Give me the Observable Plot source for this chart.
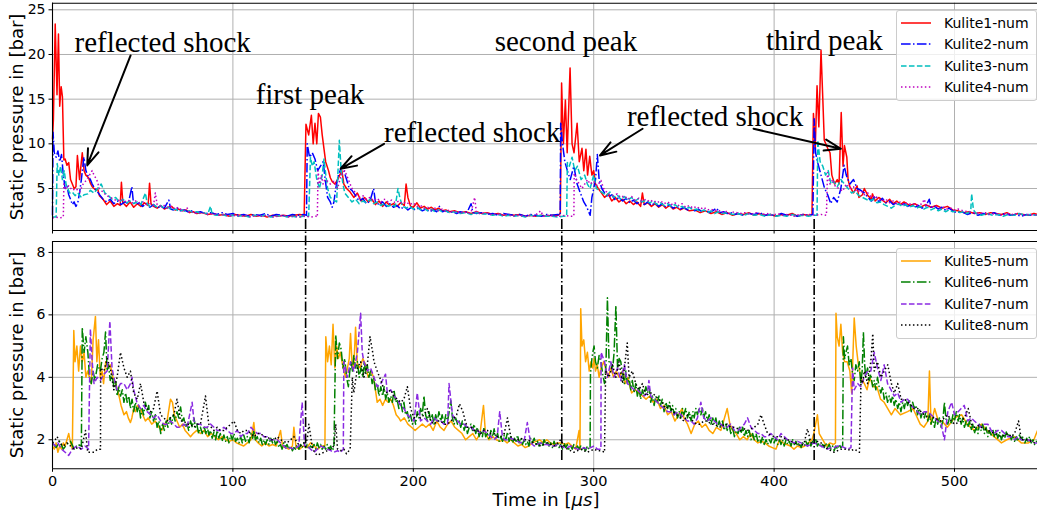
<!DOCTYPE html>
<html><head><meta charset="utf-8">
<script src="https://cdn.jsdelivr.net/npm/d3@7"></script>
<script src="https://cdn.jsdelivr.net/npm/@observablehq/plot@0.6"></script>
<style>
body{margin:0;background:#fff;}
#fig{position:relative;width:1037px;height:513px;overflow:hidden;font-family:"DejaVu Sans",sans-serif;color:#000;}
#fig > svg{position:absolute;left:0;top:0;}
.lab{position:absolute;font-size:18px;white-space:nowrap;transform:translate(-50%,-50%);}
.ylab{transform:translate(-50%,-50%) rotate(-90deg);}
.legend{position:absolute;left:896px;width:139px;height:89px;border:1px solid #cccccc;border-radius:3px;background:rgba(255,255,255,0.8);}
.legend .row{position:absolute;left:0;height:20px;width:139px;transform:translateY(-50%);}
.legend .row svg{position:absolute;left:4px;top:8px;}
.legend .row span{position:absolute;left:47px;top:0;font-size:14px;line-height:20px;}
</style></head><body><div id="fig"></div>
<script>
// ---------- data (time in µs, pressure in bar) ----------
const xTicks = [0, 100, 200, 300, 400, 500];
const topYTicks = [5, 10, 15, 20, 25];
const botYTicks = [2, 4, 6, 8];
const topNames = ["Kulite1-num", "Kulite2-num", "Kulite3-num", "Kulite4-num"];
const botNames = ["Kulite5-num", "Kulite6-num", "Kulite7-num", "Kulite8-num"];
const shockTimes = [140.3, 282.3, 422.2];

const k1 = [[0,10.5],[0.5,12.7],[1.5,23.4],[2.5,15.5],[3.3,22.3],[4,14.2],[4.8,16.4],[5.5,15.3],[6.3,8.2],[7,8.3],[8,7.6],[9,7.9],[10,6.0],[11,5.5],[12,5.0],[13,5.2],[13.8,8.7],[15,6.0],[16.5,9.0],[17.5,7.0],[18.5,6.5],[20,6.2],[21,5.6],[22,5.2],[24,4.8],[25,5.0],[26,4.2],[28,3.8],[30,3.2],[32,3.6],[34,3.0],[36,3.3],[37.5,3.1],[38.2,5.7],[39,3.4],[41,3.0],[43,3.5],[45,2.9],[47,3.3],[49,3.0],[51,3.4],[53,3.1],[53.8,5.6],[54.6,3.3],[56,3.0],[58,2.8],[60,3.1],[62,2.7],[64,2.9],[66,3.0],[68,2.6],[70,2.7],[72,2.5],[74,2.6],[76,2.3],[78,2.4],[80,2.2],[83,2.3],[86,2.1],[89,2.2],[92,2.0],[95,2.1],[98,1.9],[101,2.1],[104,2.0],[107,1.9],[110,2.1],[113,1.9],[116,2.0],[119,1.8],[122,2.0],[125,1.9],[128,2.0],[131,1.9],[134,2.0],[137,2.1],[139.5,2.0],[140.5,12.2],[142,11.0],[143.5,13.2],[144.5,10.0],[145.5,12.3],[146.5,10.0],[147.4,13.4],[148.5,13.0],[149.5,11.0],[151.4,8.0],[153,7.0],[154,6.2],[155,5.8],[156.5,5.5],[158,6.0],[160.4,7.0],[161.5,5.5],[163,5.0],[165,4.6],[167,4.0],[169,4.5],[171,3.6],[173,4.0],[175,3.5],[177,3.8],[179,3.2],[181,3.6],[183,3.0],[185,3.5],[187,3.1],[189,3.3],[191,3.0],[193,3.4],[195,3.1],[196,5.5],[197,4.0],[198.5,3.0],[200,2.9],[202,3.4],[204,2.8],[206,3.0],[208,2.7],[210,2.9],[212,2.6],[214,2.8],[216,2.5],[218,2.6],[220,2.4],[223,2.5],[226,2.3],[229,2.4],[232,2.2],[235,2.4],[238,2.2],[241,2.3],[244,2.1],[247,2.2],[250,2.0],[253,2.1],[256,2.0],[259,2.1],[262,1.9],[265,2.0],[268,1.9],[271,2.0],[274,1.9],[277,2.0],[280,2.0],[281.5,2.2],[282.2,16.8],[283.2,10],[284.3,14.9],[285.3,9],[286.9,18.5],[288,10],[289.1,9],[290.8,12.3],[292,8],[293.5,9.5],[294.5,7.0],[295.7,9.4],[296.6,6.5],[297.8,8.6],[299,6.5],[300,7.0],[301,5.5],[302.5,5.0],[304,4.6],[306,4.0],[308,4.4],[310,3.6],[312,4.0],[314,3.5],[316,3.8],[318,3.3],[320,3.6],[322,3.2],[324,3.5],[326,3.0],[327,4.5],[328,3.2],[330,3.4],[332,3.0],[334,3.3],[336,2.9],[338,3.2],[340,2.8],[342,3.1],[344,2.7],[346,2.9],[348,2.6],[350,2.8],[353,2.5],[356,2.6],[359,2.3],[362,2.5],[365,2.2],[368,2.4],[371,2.1],[374,2.3],[377,2.0],[380,2.2],[383,2.1],[386,2.3],[389,2.0],[392,2.2],[395,2.0],[398,2.1],[401,1.9],[404,2.1],[407,2.0],[410,2.2],[413,1.9],[416,2.1],[419,2.0],[421,2.1],[421.8,13.4],[422.8,9.5],[423.8,16.5],[424.8,11.9],[426,20.5],[427,15.0],[427.8,10.4],[429.7,9.5],[431,9.0],[432,6.5],[433.5,5.5],[435,6.0],[436,5.5],[437.2,13.5],[438.2,7.5],[439,9.8],[440.3,8.5],[441,6.0],[442,5.2],[444,4.5],[446,5.3],[447,4.0],[449,4.3],[450,5.0],[452,4.2],[454,3.8],[454.5,4.4],[456,3.6],[458,4.0],[460,3.7],[462,3.4],[464,3.8],[466,3.3],[468,3.6],[470,3.2],[472,3.5],[475,3.1],[478,3.3],[481,2.9],[484,3.2],[487,2.9],[490,3.1],[493,2.8],[496,3.0],[499,2.6],[502,2.5],[505,2.3],[508,2.4],[511,2.2],[514,2.3],[517,2.1],[520,2.3],[523,2.2],[526,2.1],[529,2.3],[532,2.0],[535,2.2],[538,2.1],[541,2.0],[544,2.2],[546,2.1]];

const k2 = [[0,2.0],[0.3,11.3],[1,9.0],[2,8.5],[3,9.2],[4,8.0],[5,8.8],[6,6.5],[7,5.0],[8,5.3],[9,4.3],[10,3.8],[11,3.2],[12,3.5],[13,3.0],[14,3.4],[15,4.5],[16,6.0],[17.4,8.5],[18.5,7.0],[19.5,6.5],[21,6.0],[22,5.5],[23.5,5.0],[25,4.6],[26.5,4.2],[28,3.8],[30,3.5],[32,3.8],[34,3.3],[36,3.6],[38,3.2],[40,3.5],[42,3.3],[44,5.2],[44.8,3.5],[46,3.2],[48,3.4],[50,3.0],[52,3.3],[54,2.9],[56,3.2],[58,2.8],[60,3.0],[62,2.8],[64.5,3.7],[65.5,2.7],[67,2.6],[69,2.8],[71,2.5],[73,2.6],[75,2.4],[77,2.5],[79,2.3],[82,2.4],[85,2.2],[88,2.3],[91,2.1],[94,2.3],[97,2.1],[100,2.2],[103,2.0],[106,2.1],[109,1.9],[112,2.1],[115,2.0],[118,2.2],[121,1.9],[124,2.1],[127,2.0],[130,1.9],[133,2.1],[136,2.0],[139,2.1],[140.8,2.0],[141.2,10.0],[142.5,8.5],[144,9.0],[145.5,8.3],[147,7.0],[148.5,7.5],[150,8.0],[151.5,5.5],[152.5,4.0],[154,3.5],[155,2.9],[156,3.5],[157,5.0],[158.5,6.5],[160.4,7.5],[161.5,7.0],[163,6.0],[164.5,5.0],[166,4.8],[168,4.2],[170,3.6],[172,3.9],[174,3.3],[176,3.6],[178,5.0],[179,3.5],[181,3.2],[183,3.5],[185,3.0],[187,3.3],[189,2.9],[191,3.1],[193,2.7],[195,3.0],[197,2.6],[199,2.9],[201,2.6],[203,2.8],[205,2.5],[207,2.7],[209,2.4],[211,2.6],[213,2.4],[214.5,3.0],[216,2.4],[218,2.5],[220,2.3],[222,2.4],[224,2.2],[226,2.4],[228,2.3],[230,2.4],[232,3.3],[233,2.3],[235,2.2],[238,2.3],[241,2.1],[244,2.2],[247,2.0],[250,2.2],[253,2.1],[256,2.0],[259,2.1],[262,1.9],[265,2.1],[268,2.0],[271,1.9],[274,2.1],[277,2.0],[280,2.1],[281.4,2.0],[281.7,12.3],[282.7,10.0],[284,8.0],[285.4,7.0],[287,6.0],[289,7.5],[290.8,5.5],[292.6,4.5],[294.5,3.5],[296,3.0],[297,2.5],[298,2.0],[299,4.0],[300,5.0],[301,6.0],[302,8.8],[303,6.0],[304.5,5.0],[306,4.5],[308,4.0],[310,4.3],[312,3.7],[314,4.0],[316,3.6],[318,3.9],[320,3.4],[322,3.7],[324,3.3],[326,3.6],[328,3.2],[330,3.5],[332,3.1],[334,3.4],[336,3.0],[338,3.3],[340,2.9],[342,3.2],[344,2.8],[346,3.0],[348,2.7],[350,2.9],[352,2.6],[354,2.8],[356,2.5],[358,2.7],[360,2.4],[362,2.6],[364,2.3],[366,2.5],[368,2.8],[370,2.3],[372,2.4],[374,2.2],[376,2.3],[378,2.1],[380,2.2],[383,2.0],[386,2.2],[389,2.1],[392,2.3],[395,2.0],[398,2.1],[401,1.9],[404,2.2],[407,2.0],[410,2.1],[413,1.9],[416,2.1],[419,2.0],[421.5,2.1],[422.2,12.8],[423,9.0],[424,8.0],[426,6.5],[428,5.0],[429.7,4.3],[431.4,3.3],[433,4.0],[435,3.5],[437,5.0],[438.8,7.6],[440,6.5],[442,5.5],[444,6.0],[446,5.0],[448,4.8],[450,4.5],[452,4.0],[454,3.6],[456,4.2],[458,3.5],[460,3.9],[462,3.4],[464,3.6],[466,3.2],[468,3.4],[470,3.1],[472,3.3],[474,3.0],[476,3.2],[478,2.9],[480,3.1],[482,2.8],[484,3.0],[486,3.8],[487,2.9],[489,3.0],[491,2.7],[493,2.9],[495,2.6],[497,2.8],[499,2.5],[501,2.3],[504,2.4],[507,2.1],[510,2.3],[513,2.0],[516,2.2],[519,2.1],[522,2.3],[525,2.0],[528,2.2],[531,2.0],[534,2.1],[537,1.9],[540,2.1],[543,2.0],[546,2.1]];

const k3 = [[0,1.8],[2,1.8],[2.6,7.8],[3.5,6.5],[4.5,7.5],[5.5,6.0],[6.5,7.0],[7.5,5.5],[8.5,5.0],[9.5,4.5],[11,4.6],[12.5,4.2],[14,4.5],[16,4.0],[17.5,4.3],[19.6,4.4],[21,4.8],[23,4.5],[25,5.0],[27,5.5],[29,4.5],[31,4.2],[33,3.8],[35,4.0],[37,3.5],[39,3.8],[41,3.4],[43,3.6],[45,3.3],[47,3.5],[49,3.2],[51.5,4.5],[52.5,3.3],[54,3.0],[56,3.2],[58,2.9],[60,3.1],[62,2.8],[64,2.9],[66,2.6],[68,2.7],[70,2.5],[72,2.6],[74,2.4],[76,2.5],[78,2.3],[80,2.4],[82,2.2],[84,2.3],[86,2.1],[87.6,3.0],[88.5,2.1],[91,2.0],[94,2.1],[97,1.9],[100,2.0],[103,1.9],[106,2.0],[109,1.8],[112,2.0],[115,1.9],[118,2.0],[121,1.8],[124,1.9],[127,2.0],[130,1.8],[133,1.9],[136,1.8],[139,1.9],[142,1.9],[143,8.5],[144,7.5],[145,8.0],[146.5,6.0],[148,5.0],[149.5,6.5],[150.5,8.3],[151.5,6.5],[152.5,5.0],[154,4.0],[156,3.7],[157.5,3.5],[159,10.4],[160,7.0],[161,5.5],[162,4.5],[164,4.0],[166,3.5],[168,3.8],[170,3.3],[172,3.6],[174,3.4],[176,3.8],[178,3.3],[180,3.5],[182,3.1],[184,3.3],[186,3.0],[188,3.2],[190,3.0],[191.5,5.0],[192.5,4.0],[194,3.0],[196,2.8],[198,3.0],[200,2.7],[202,2.9],[204,2.6],[206,2.8],[208,2.5],[210,2.7],[212,2.4],[214,2.6],[216,2.4],[218,2.5],[220,2.3],[223,2.4],[226,2.2],[229,2.3],[232,2.1],[235,2.3],[238,2.1],[241,2.2],[244,2.0],[247,2.1],[250,1.9],[253,2.0],[256,1.9],[259,2.0],[262,1.8],[265,2.0],[268,1.9],[271,2.0],[274,1.9],[277,1.9],[280,1.8],[283,1.9],[285,1.9],[285.4,7.9],[286.5,7.5],[288,8.5],[289.5,7.0],[291,7.5],[293,6.0],[295,6.5],[296.5,5.5],[298,5.0],[300,6.5],[301.5,5.0],[303,4.8],[305,4.5],[307,4.2],[309,4.6],[311,4.0],[313,4.3],[315,3.8],[317,4.1],[319,3.7],[321,4.0],[323,3.6],[325,3.9],[327,3.5],[329,3.7],[331,3.4],[333,3.6],[335,3.2],[337,3.4],[339,3.1],[341,3.3],[343,3.0],[345,3.2],[347,2.9],[349,3.0],[351,2.7],[353,2.9],[355,2.6],[357,2.7],[359,2.4],[361,2.6],[363,2.3],[365,2.5],[367,2.2],[369,2.4],[371,2.2],[374,2.3],[377,2.1],[380,2.2],[383,2.0],[386,2.2],[389,2.0],[392,2.1],[395,1.9],[398,2.1],[401,1.9],[404,2.0],[407,1.9],[410,2.1],[413,1.9],[416,2.0],[419,1.9],[422,2.0],[423.8,2.0],[424.2,10.4],[425.5,8.0],[427,7.5],[428.5,6.5],[430,7.0],[431.5,5.5],[433,5.8],[435,5.2],[437,6.0],[439,5.5],[441,5.0],[443,4.5],[445,4.7],[447,4.2],[449,4.0],[451,3.8],[453,3.6],[455,3.8],[457,3.4],[459,3.5],[461,3.2],[463,3.0],[465,2.8],[467,3.1],[469,3.3],[471,3.0],[473,3.2],[475,2.9],[477,3.1],[479,2.8],[481,3.0],[483,2.7],[485,2.9],[487,2.6],[489,2.8],[491,2.5],[493,2.7],[495,2.4],[497,2.6],[499,2.4],[501,2.5],[503,2.3],[505,2.4],[507,2.2],[509,2.5],[509.5,4.4],[510.5,2.6],[512,2.2],[515,2.0],[518,2.2],[521,2.0],[524,2.1],[527,1.9],[530,2.1],[533,2.0],[536,2.2],[539,2.0],[542,2.1],[546,2.0]];

const k4 = [[0,1.7],[2,1.8],[4,1.7],[6,1.8],[6.3,5.5],[7.5,5.0],[9,5.3],[11,4.8],[13,5.0],[15,4.6],[17,5.5],[19,6.0],[20.5,6.5],[22,7.0],[23,6.5],[24.5,6.0],[26,5.0],[28,4.6],[30,4.2],[32,4.0],[34,3.8],[36,3.6],[38,3.8],[40,3.5],[42,3.7],[44,3.4],[46,3.6],[48,3.4],[50,3.5],[52,3.2],[54,3.3],[56,3.1],[57,4.5],[58,3.2],[60,3.0],[62,3.1],[64,2.8],[66,3.0],[68,2.7],[70,2.9],[72,2.5],[74,2.7],[74.7,2.8],[76,2.3],[78,2.4],[80,2.2],[83,2.3],[86,2.1],[89,2.2],[92,2.0],[95,2.1],[98,1.9],[101,2.0],[104,1.9],[107,2.0],[110,1.8],[113,2.0],[116,1.9],[119,2.0],[122,1.8],[125,1.9],[128,2.0],[131,1.8],[134,1.9],[137,1.8],[140,1.9],[143,1.8],[146,1.9],[146.8,1.8],[147.2,7.0],[148,5.5],[149,6.5],[150,5.5],[151,6.0],[152.5,5.8],[154,5.5],[156,5.8],[158,5.0],[160,6.5],[162,7.0],[164,6.0],[166,5.0],[168,4.5],[170,4.0],[172,4.2],[174,3.8],[176,4.0],[178,3.6],[180,3.9],[182,3.5],[184,3.8],[186,3.5],[188,3.7],[190,3.4],[192,3.6],[194,3.3],[196,3.5],[198,3.2],[200,3.4],[202,3.0],[204,3.1],[206,2.8],[208,2.9],[210,2.6],[212,2.8],[214,2.5],[216,2.7],[218,2.4],[220,2.6],[222,2.3],[224,2.5],[226,2.2],[228,2.4],[230,2.2],[232,2.3],[234,4.0],[235,2.3],[237,2.2],[240,2.3],[243,2.1],[246,2.2],[249,2.0],[252,2.1],[255,1.9],[258,2.0],[261,1.9],[264,2.0],[267,1.9],[270.6,2.5],[272,1.9],[275,2.0],[278,1.9],[281,1.9],[284,2.0],[287,1.9],[289,1.9],[289.2,6.7],[290.5,6.0],[292,5.5],[293.5,5.0],[295,5.5],[296.6,6.0],[298,5.5],[300,5.8],[302,5.3],[304,5.9],[305.5,5.0],[307.6,4.5],[309,4.3],[311,4.2],[313,4.4],[315,4.0],[317,4.2],[319,3.8],[321,4.1],[323,3.7],[325,3.9],[327,3.6],[329,3.8],[331,3.5],[333,3.7],[335,3.4],[337,3.6],[339,3.3],[341,3.5],[343,3.2],[345,3.4],[347,3.1],[349,3.3],[351,2.9],[353,3.1],[355,2.8],[357,3.0],[359,2.7],[361,2.9],[363,2.6],[365,2.7],[367,2.5],[369,2.6],[371,2.3],[373,2.5],[375,2.2],[378,2.4],[381,2.2],[384,2.3],[387,2.1],[390,2.3],[393,2.1],[396,2.2],[399,2.0],[402,2.2],[405,2.0],[408,2.1],[411,1.9],[414,2.1],[417,2.0],[420,2.1],[423,2.0],[426,2.1],[429,2.0],[429.6,6.8],[431,5.5],[432.5,6.0],[434,5.2],[436,5.0],[438,4.7],[440,5.5],[442,5.0],[444,5.2],[446,4.6],[448,4.8],[450,4.3],[452,4.5],[454,4.0],[456,4.2],[458,3.8],[460,3.6],[462,3.8],[464,3.4],[466,3.6],[468,3.3],[470,3.5],[472,3.2],[474,3.4],[476,3.2],[478,3.3],[480,3.1],[482,3.3],[483.2,3.8],[484.5,3.0],[486,3.1],[488,2.9],[490,3.0],[492,2.8],[494,2.9],[496,2.7],[498,2.8],[500,2.6],[502,2.7],[505,2.5],[508,2.4],[511,2.3],[514,2.2],[517,2.3],[520,2.1],[523,2.2],[526,2.0],[529,2.2],[532,2.1],[535,2.2],[538,2.0],[541,2.1],[544,2.0],[546,2.1]];

const k5 = [[0,1.8],[1,1.7],[2,1.9],[3,1.6],[4,1.8],[5,1.7],[6,1.9],[7,1.8],[8,2.0],[9,2.2],[10,1.9],[11,1.7],[11.8,5.5],[12.5,4.5],[13.5,5.0],[14.5,4.2],[15.5,5.0],[16.5,4.5],[17.5,4.8],[18.5,4.0],[19.5,4.2],[20.5,4.0],[21.5,3.8],[22.5,5.2],[23.8,5.95],[24.6,4.5],[25.5,5.2],[26.5,4.0],[27.5,4.2],[28.3,3.8],[29.5,4.5],[30.5,4.3],[32,4.4],[33.5,4.0],[35,3.8],[36.5,3.5],[38,3.1],[39.6,2.8],[41,2.9],[42,2.7],[43.2,2.55],[44,2.7],[45,3.0],[46,2.9],[47,3.1],[48.6,3.0],[50,2.8],[51.5,2.6],[53,2.7],[55,2.5],[57,2.6],[59,2.4],[60.5,2.3],[62,2.5],[63.5,2.6],[65.4,3.3],[66.5,3.2],[67.5,2.8],[69,2.6],[70.5,2.4],[72,2.5],[73.5,2.3],[75,2.2],[76.5,2.1],[78,2.2],[80,2.3],[82,2.2],[84,2.3],[86,2.1],[88,2.2],[90,2.1],[92,2.0],[94,2.1],[96,2.0],[98,1.95],[100,2.0],[102,1.9],[104,1.85],[106,1.8],[108,1.9],[110,2.0],[111.6,2.55],[112.5,2.0],[114,1.9],[116,1.8],[118,1.9],[120,1.8],[122,1.85],[124,1.8],[126.4,2.3],[127.5,1.8],[129,1.75],[131,1.7],[133,1.8],[133.8,2.4],[135,1.75],[137,1.7],[139,1.8],[141,1.75],[143,1.9],[145,1.8],[147,1.7],[149,1.8],[151,1.8],[151.5,5.3],[152.5,4.5],[153.5,5.0],[154.5,4.4],[155.5,5.7],[156.5,4.3],[157.5,5.0],[158.5,4.6],[159.5,4.8],[160.5,4.5],[161.5,4.2],[162.5,4.0],[163.5,4.3],[164.5,4.6],[165.2,5.4],[166,4.5],[167,4.3],[168,5.6],[169,4.4],[170.5,4.3],[172,4.6],[173.5,4.4],[175,4.0],[176.5,4.2],[178,4.0],[179,3.6],[180,3.2],[181.5,3.3],[183,3.1],[184.5,3.3],[186,3.2],[187.5,3.3],[189,3.1],[190.5,2.8],[192,2.7],[193,2.6],[195,2.7],[197,2.5],[199,2.4],[201,2.3],[203,2.4],[205,2.5],[207,2.4],[209,2.5],[211,2.3],[213,2.6],[215,2.4],[217,2.3],[219,2.5],[221,2.6],[223,2.4],[225,2.3],[227,2.2],[229,2.0],[231,2.1],[233,2.2],[235,2.0],[237,2.2],[238.9,3.1],[240,2.2],[242,2.0],[244,2.1],[246,2.0],[248,1.95],[250,2.0],[252,1.9],[254,2.0],[256,1.9],[258,1.8],[260,1.85],[262,1.75],[264,1.8],[266,1.9],[268,1.95],[270,2.0],[272,1.9],[274,2.0],[276,1.9],[278,1.85],[280,1.9],[282,1.9],[284,1.85],[286,1.9],[288,1.8],[290,1.7],[291.9,2.3],[292.4,1.7],[292.8,6.2],[293.5,5.0],[294.5,5.2],[295.5,4.5],[296.5,4.8],[297.5,4.2],[298.5,4.5],[299.5,4.3],[300.2,4.6],[301,4.2],[302,4.4],[303,4.0],[304,4.3],[305.5,4.5],[307,4.2],[308,4.0],[309.5,4.3],[311,4.0],[312.5,4.2],[314,4.0],[316,4.2],[317.5,3.8],[319,4.0],[321,3.5],[323,3.6],[325,3.5],[327,3.4],[329,3.3],[331,3.4],[333,3.2],[335,3.3],[337,3.0],[339,3.1],[341,2.8],[343,2.9],[345,2.6],[347,2.8],[349,3.0],[350,2.7],[352,2.5],[354,2.2],[356,2.5],[358,2.6],[360,2.4],[362,2.5],[364,2.3],[366,2.2],[368,2.4],[370.5,2.3],[372,2.6],[374,3.0],[375.5,2.5],[377,2.3],[379,2.2],[381,2.0],[383,2.1],[385,2.0],[387,2.2],[389,2.0],[391,1.9],[393,1.95],[395,1.9],[397,1.8],[399,1.75],[401,1.7],[403,2.0],[405,1.9],[407,1.85],[409,1.8],[411,1.7],[413,1.8],[415,1.75],[417,1.8],[419,1.9],[421,2.0],[422,2.2],[424,2.8],[425,2.2],[427,2.0],[429,1.8],[431,1.9],[433,1.85],[434,1.9],[434.3,6.05],[435,5.3],[436,5.0],[437,5.7],[438,4.8],[439,4.5],[440.5,4.5],[442,4.2],[443,3.5],[444.4,5.9],[445.5,5.0],[446.5,4.5],[448,4.0],[450,3.8],[451.5,3.6],[453,4.0],[455,3.7],[457,3.7],[459,3.3],[461,3.2],[463,3.0],[465,2.8],[467,3.0],[470,2.8],[474,2.9],[477,3.0],[481,2.5],[483,2.4],[485.2,2.6],[486.1,4.2],[487,2.5],[489,3.0],[491,2.6],[493,2.6],[496,2.4],[500,2.7],[504,2.8],[507,2.5],[511,2.3],[515,2.5],[518,2.3],[522,2.1],[526,1.9],[529,2.0],[533,2.1],[537,1.9],[541,1.9],[544,2.0],[546,2.3]];

const k6 = [[0,1.9],[2,1.75],[4,1.95],[6,1.7],[8,1.85],[10,1.95],[12,1.7],[14,1.85],[16,1.8],[16.5,5.6],[17.5,4.8],[18.5,5.3],[19.6,4.8],[20.5,4.0],[21.5,3.8],[22.5,4.2],[23.5,3.9],[25,4.4],[26.5,4.2],[27.5,4.6],[28.5,4.8],[29.4,5.45],[30.3,4.2],[31,4.4],[32,3.9],[33,4.1],[34,3.7],[35,3.9],[35.8,3.4],[36.8,3.7],[37.7,3.4],[38.7,3.6],[39.6,3.2],[40.5,3.5],[41.4,3.2],[42.3,3.4],[43.2,3.0],[44.1,3.3],[45,2.9],[46,3.2],[47,2.9],[48,3.1],[48.8,2.7],[49.7,3.0],[50.5,2.8],[51.5,3.2],[52.5,2.9],[53.3,3.1],[54,2.7],[55,2.9],[56,2.6],[57,2.8],[58,2.4],[59,2.6],[60,2.2],[61,2.5],[62,2.3],[63,2.6],[64,2.4],[65,2.7],[66,2.5],[67,2.8],[68,2.6],[69,2.9],[70,2.7],[71,3.05],[72,2.6],[72.8,2.7],[73.7,2.4],[74.6,2.5],[75.5,2.3],[76.5,2.6],[77.5,2.4],[78.4,2.7],[79.2,2.4],[80,2.5],[81,2.2],[82,2.4],[83,2.2],[84,2.45],[85,2.2],[85.8,2.4],[86.7,2.15],[87.6,2.3],[88.5,2.05],[89.5,2.25],[90.4,2.0],[91.3,2.3],[92.2,2.05],[93,2.2],[94,1.95],[95,2.15],[96,1.95],[96.9,2.1],[97.8,1.9],[98.8,2.15],[99.7,2.0],[100.6,2.2],[101.5,1.95],[102.5,2.05],[103.4,1.9],[104.3,2.1],[105.2,1.9],[106,2.15],[107,1.95],[108,2.1],[109,1.9],[110,2.2],[111,2.05],[111.6,2.3],[112.5,2.0],[113.5,2.1],[114.5,1.9],[115.4,2.05],[116.3,1.85],[117.2,2.0],[118.1,1.85],[119,2.0],[120,1.85],[121,2.05],[122,1.9],[122.7,2.05],[123.6,1.85],[124.6,1.95],[125.5,1.75],[126.4,1.85],[127.3,1.7],[128.2,1.9],[129.1,1.75],[130,1.85],[131,1.7],[132,1.8],[133,1.65],[133.8,1.75],[134.7,1.7],[135.6,1.85],[136.6,1.7],[137.5,1.85],[138.4,1.75],[139.4,1.9],[140.3,1.75],[141.2,1.85],[142.1,1.7],[143,1.8],[144,1.75],[145,1.85],[146,1.7],[146.8,1.9],[147.7,1.75],[148.6,1.85],[149.5,1.7],[150.5,1.8],[151.4,1.7],[152.3,1.85],[153.2,1.7],[154.2,1.8],[155,1.65],[156,1.75],[157,5.35],[158,4.6],[159,5.1],[160,4.9],[161,4.3],[162,4.6],[163,4.0],[164,3.7],[164.8,4.2],[165.5,4.5],[166.3,4.2],[167,4.7],[168,4.3],[169,4.5],[170,4.0],[171,4.3],[172,4.0],[172.8,4.5],[173.7,4.1],[174.5,4.4],[175.4,4.0],[176.3,4.2],[177.2,3.8],[178,4.0],[179,3.6],[180,3.8],[181,3.4],[182,3.7],[183,3.4],[183.8,3.7],[184.7,3.3],[185.6,3.5],[186.5,3.2],[187.5,3.4],[188.4,3.2],[189.3,3.6],[190.2,3.2],[191,3.3],[192,3.0],[193,3.2],[194,2.9],[194.8,3.2],[195.7,2.8],[196.7,2.9],[197.6,2.6],[198.5,2.8],[199.5,2.5],[200.4,2.7],[201.3,2.5],[202.2,2.9],[203.1,2.7],[204,3.0],[205,2.8],[205.9,3.4],[206.8,2.8],[207.8,2.6],[208.7,2.9],[209.6,2.6],[210.5,2.8],[211.5,2.5],[212.4,2.8],[213.3,2.6],[214.2,2.9],[215.2,2.6],[216,2.8],[217,2.5],[218,2.8],[219,2.6],[219.9,2.9],[220.8,3.25],[221.7,2.7],[222.6,2.5],[223.5,2.7],[224.5,2.5],[225.4,2.6],[226.3,2.4],[227.2,2.6],[228.2,2.3],[229.1,2.5],[230,2.2],[231,2.4],[232,2.5],[232.8,2.3],[233.7,2.5],[234.6,2.2],[235.5,2.4],[236.5,2.1],[237.4,2.3],[238.3,2.1],[239.2,2.4],[240.1,2.1],[241,2.2],[242,2.0],[243,2.3],[244,2.1],[244.8,2.35],[245.8,2.05],[246.7,2.2],[247.6,1.95],[248.5,2.1],[249.5,1.95],[250.4,2.15],[251.3,2.0],[252.2,2.25],[253.1,1.95],[254,2.1],[255,1.9],[256,2.05],[257,1.95],[257.8,2.15],[258.7,1.9],[259.5,2.05],[260.5,1.85],[261.4,2.0],[262.3,1.85],[263.2,1.95],[264.1,1.8],[265,2.05],[266,1.9],[267,2.05],[268,1.85],[268.8,1.95],[269.7,1.8],[270.6,1.95],[271.5,1.8],[272.5,2.0],[273.4,1.85],[274.3,1.95],[275.2,1.8],[276.2,1.9],[277.1,1.75],[278,1.95],[279,1.8],[280,1.9],[280.8,1.75],[281.7,1.85],[282.7,1.7],[283.6,1.9],[284.5,1.75],[285.4,1.85],[286.3,1.7],[287.2,1.8],[288.1,1.7],[289,1.85],[290,1.7],[291,1.8],[291.9,1.7],[292.8,1.8],[293.7,1.65],[294.6,1.75],[295.5,1.65],[296.5,1.8],[297.3,1.7],[298,1.75],[298.2,4.1],[299,4.6],[299.5,4.8],[300.2,5.0],[301,4.5],[302,4.3],[303,4.7],[304,4.5],[305,4.1],[306,3.8],[306.8,4.4],[307.6,6.55],[308.5,4.5],[309.5,4.5],[310.4,4.2],[311.3,4.8],[312.3,6.3],[313.2,4.3],[314.1,4.6],[315,4.5],[316,4.1],[317,3.8],[317.8,4.2],[318.7,3.8],[319.6,4.0],[320.5,3.6],[321.4,3.9],[322.4,3.5],[323.3,3.8],[324.2,3.4],[325.1,3.7],[326,3.3],[327,3.6],[328,3.4],[328.9,3.7],[329.8,3.5],[330.7,3.7],[331.6,3.2],[332.5,3.4],[333.5,3.1],[334.4,3.4],[335.3,3.2],[336.2,3.4],[337,3.1],[338,3.3],[339,2.9],[340,3.2],[341,3.0],[342,3.2],[342.8,2.9],[343.7,3.1],[344.6,2.8],[345.5,3.0],[346.5,2.7],[347.4,2.9],[348.3,2.7],[349.2,3.0],[350,2.8],[351,3.0],[352,2.7],[353,2.9],[354,2.6],[355,2.9],[355.7,2.7],[356.6,3.0],[357.5,2.8],[358.5,3.0],[359.4,2.8],[360.3,3.0],[361,2.7],[362,2.9],[363,2.6],[364,2.8],[365,2.5],[366,2.7],[366.8,2.5],[367.7,2.7],[368.6,2.4],[369.6,2.6],[370.5,2.4],[371.4,2.6],[372.3,2.3],[373.2,2.5],[374,2.3],[375,2.5],[376,2.2],[377,2.4],[378,2.1],[379,2.3],[380,2.2],[380.8,2.4],[381.6,2.2],[382.6,2.4],[383.5,2.1],[384.4,2.3],[385.3,2.1],[386.2,2.3],[387.2,2.0],[388.1,2.2],[389,2.0],[390,2.2],[391,1.95],[391.8,2.1],[392.7,1.9],[393.6,2.1],[394.5,1.85],[395.5,2.0],[396.4,1.85],[397.3,2.0],[398.2,1.9],[399.1,2.1],[400,1.9],[401,2.05],[402,1.85],[403,2.0],[403.8,1.85],[404.7,2.0],[405.6,1.8],[406.6,2.0],[407.5,1.85],[408.4,1.95],[409.4,1.8],[410.3,2.0],[411.2,1.85],[412.1,1.95],[413,1.8],[414,1.9],[415,1.75],[415.8,1.9],[416.7,1.8],[417.6,1.95],[418.5,1.8],[419.5,2.0],[420.4,1.8],[421.3,1.95],[422.2,1.85],[423.1,2.0],[424,1.8],[425,1.9],[426,1.75],[426.9,1.85],[427.8,1.75],[428.7,1.9],[429.6,1.75],[430.6,1.85],[431.5,1.7],[432.4,1.8],[433.3,1.65],[434.2,1.8],[435.2,1.7],[436.1,1.85],[437,1.75],[438,1.8],[438.4,5.3],[439.1,4.6],[439.8,4.8],[440.7,5.0],[441.6,4.4],[442.6,4.6],[443.5,4.1],[444.4,3.9],[445.3,4.4],[446.3,4.2],[447.2,4.5],[448,3.8],[448.8,4.2],[449.5,5.45],[450.2,4.4],[450.8,4.0],[451.8,4.3],[452.7,3.9],[453.6,4.1],[454.6,3.7],[455.5,3.9],[456.4,3.6],[457.3,4.0],[458.2,3.7],[459.2,3.5],[460.1,3.7],[461,3.3],[462,3.5],[462.9,3.2],[463.8,3.4],[464.8,3.2],[465.7,3.4],[466.6,3.1],[467.5,3.3],[468.5,3.0],[469.4,3.2],[470.3,2.9],[471.3,3.2],[472.2,3.0],[473.1,3.3],[474,3.1],[475,3.3],[476,2.9],[476.8,3.2],[477.7,3.0],[478.6,3.1],[479.5,2.8],[480.5,3.0],[481.4,2.7],[482.3,2.9],[483.3,2.7],[484.2,2.9],[485.2,2.6],[486.1,2.8],[487,2.5],[488,2.7],[488.9,2.4],[489.8,2.7],[490.7,2.5],[491.6,2.7],[492.6,2.4],[493.5,2.6],[494.4,3.2],[495.4,2.6],[496.3,2.5],[497.2,2.7],[498.2,2.5],[499.1,2.8],[500,2.6],[501,2.9],[502,2.6],[502.8,2.8],[503.7,2.5],[504.6,2.7],[505.5,2.4],[506.5,2.6],[507.4,2.4],[508.3,2.6],[509.2,2.3],[510.1,2.5],[511,2.2],[512,2.4],[513,2.2],[513.8,2.5],[514.7,2.3],[515.6,2.5],[516.6,2.2],[517.5,2.4],[518.5,2.1],[519.4,2.3],[520.3,2.15],[521.2,2.35],[522,2.1],[523,2.3],[524,2.05],[525,2.25],[526,2.0],[527,2.2],[527.8,2.05],[528.7,2.25],[529.6,2.1],[530.5,2.2],[531.5,2.0],[532.4,2.15],[533.3,1.95],[534.2,2.1],[535,1.95],[536,2.15],[537,2.0],[538,2.1],[539,1.9],[540,2.05],[540.7,1.95],[541.6,2.1],[542.5,1.9],[543.5,2.0],[544.4,1.85],[545.3,1.95],[546,1.9]];

const k7 = [[0,1.9],[1.5,1.8],[3,1.9],[5,1.7],[7,1.6],[9,1.5],[11,1.7],[13.5,1.8],[16,1.7],[18,1.8],[20,1.7],[21,5.55],[22,4.5],[23,3.8],[24.8,4.0],[26.6,3.9],[28.5,4.1],[30.3,4.2],[31.8,5.8],[33,4.3],[34,4.0],[35.8,3.6],[37.7,3.8],[39.6,3.8],[41.4,3.6],[43.2,3.8],[44.1,4.0],[45,3.6],[46.8,3.2],[48.8,3.0],[50.6,3.1],[52.5,2.9],[54.3,2.8],[56,2.7],[58,2.8],[60,2.6],[61.7,2.5],[63.5,2.5],[65.4,2.6],[67.3,2.5],[69,2.4],[71,2.4],[72.8,2.5],[74.6,2.4],[77.4,3.2],[78.4,2.6],[80.3,2.5],[82,2.5],[84,2.4],[85.8,2.4],[87.6,2.5],[89.5,2.4],[91.3,2.3],[93,2.3],[95,2.4],[96.9,2.3],[98.8,2.2],[100.6,2.2],[102.5,2.3],[104.3,2.1],[106.2,2.2],[108,2.2],[110,2.4],[111.6,2.3],[113.5,2.2],[115.4,2.2],[117.2,2.1],[119,2.1],[121,2.0],[122.7,2.0],[124.6,2.0],[126.4,1.9],[128.2,1.8],[130,1.7],[132,1.75],[133.8,1.7],[136.5,1.8],[138.4,3.2],[139.7,1.8],[141.2,1.8],[143,1.7],[145,1.6],[146.8,1.7],[148.6,1.8],[150.5,1.75],[152.3,1.7],[154.2,1.65],[156,1.6],[158,1.65],[159.7,1.6],[161.2,1.7],[161.5,4.5],[163.4,4.0],[165.2,4.5],[167,4.2],[169,4.8],[170.8,6.05],[171.7,4.8],[172.6,4.5],[174.5,4.2],[176.3,4.3],[178.2,4.0],[180,3.7],[182,3.8],[184.6,4.1],[185.6,3.5],[187.5,3.6],[189.3,3.4],[191,3.3],[193,3.1],[194.8,3.0],[196.7,2.8],[198.5,2.7],[200.4,2.6],[202.2,3.5],[204,2.6],[206,2.7],[207.8,2.6],[209.6,2.5],[211.5,2.7],[213.3,2.6],[215.2,2.6],[217,2.5],[219,2.5],[219.8,3.8],[221.7,2.8],[222.6,2.7],[224.5,2.6],[226.3,2.5],[228.2,2.5],[230,2.4],[232,2.4],[233.7,2.3],[235.5,2.3],[237.4,2.2],[239.2,2.3],[241,2.2],[243,2.1],[244.8,2.0],[246.5,2.1],[247.9,2.9],[249.4,2.1],[250.6,2.0],[252.2,2.0],[254,2.05],[256,2.0],[257.8,1.95],[259.5,1.9],[261.4,1.95],[263.2,2.55],[265,1.9],[267,1.8],[268.8,1.85],[270.6,1.9],[272.5,1.85],[274.3,1.85],[276.2,1.8],[278,1.8],[280,1.85],[281.7,1.8],[283.6,1.75],[285.4,1.75],[287.2,1.8],[289,1.75],[291,1.7],[292.8,1.7],[294.6,1.75],[296.5,1.7],[298.3,1.75],[300.2,1.8],[302,1.7],[304,1.7],[304.1,4.8],[306,4.5],[307.6,4.0],[309.5,4.5],[311.3,4.0],[313.2,4.3],[315,3.9],[317,4.4],[318.7,3.8],[320.5,3.7],[322.4,3.6],[324.2,3.6],[326,3.5],[328,3.4],[329.8,3.5],[330.6,3.9],[331.6,3.4],[333.5,3.3],[335.3,3.2],[337,3.1],[339,3.0],[341,2.9],[342.8,2.9],[344.6,2.8],[346.5,2.9],[348.3,2.8],[350,2.7],[352,2.6],[354,2.6],[355.7,2.5],[357.5,2.7],[359.4,3.2],[361,2.7],[363,2.6],[365,2.7],[366.8,2.6],[368.6,2.5],[370.5,2.5],[372.3,2.4],[374,2.4],[376,2.5],[378,2.3],[380,2.3],[381.6,2.4],[383.5,2.5],[385.3,2.7],[387.2,2.4],[389,2.3],[391,2.2],[392.7,2.2],[394.5,2.1],[396.4,2.1],[398.2,2.2],[400,2.1],[402,2.0],[403.8,2.2],[405.6,2.1],[407.5,2.0],[409.4,1.95],[411.2,1.9],[413,1.95],[415,1.9],[416.7,1.85],[418.5,1.8],[420.4,1.85],[422.2,1.9],[424,1.85],[426,1.8],[427.8,1.75],[429.6,1.7],[431.5,1.75],[433.3,1.75],[435.2,1.8],[437,1.8],[438.9,1.75],[440.7,1.7],[442.6,1.75],[443.5,4.3],[444.4,3.6],[446.3,3.8],[448,3.7],[450,4.0],[451.8,4.2],[453.6,4.2],[455.5,4.8],[457.3,4.3],[459.2,3.9],[461,4.4],[462.9,3.8],[464.8,3.6],[466.6,3.4],[468.5,3.5],[470.4,3.2],[472.2,3.3],[474,3.3],[476,3.1],[477.7,3.0],[479.5,2.9],[481.4,2.8],[483.3,2.9],[485.2,2.9],[487,2.8],[488.9,2.7],[490.7,2.6],[492.6,2.5],[494.4,2.0],[496.3,2.9],[498.4,3.2],[500,2.8],[502,2.9],[503.7,3.0],[505.4,3.1],[507.4,2.6],[509.2,2.7],[511,2.6],[513,2.5],[514.7,2.4],[516.6,2.5],[518.5,2.5],[520.3,2.3],[522,2.2],[524,2.3],[526,2.3],[527.8,2.2],[529.6,2.1],[531.5,2.1],[533.3,2.0],[535,2.1],[537,2.0],[539,2.0],[540.7,2.0],[542.5,1.95],[544.4,1.9],[546,1.9]];

const k8 = [[0,1.9],[1.5,2.0],[2.6,2.1],[4,1.9],[6,1.8],[8,1.9],[10,1.8],[12,1.7],[14,1.75],[16,1.7],[18.3,2.3],[19.5,1.6],[21,1.6],[23,1.6],[25,1.7],[26.6,1.7],[26.7,4.3],[28.5,4.2],[30.3,4.6],[32,4.3],[34,3.6],[35.8,4.0],[37.7,4.8],[39.6,4.3],[41.4,4.0],[43.2,4.2],[45,3.5],[47,3.3],[48.8,3.8],[50.6,3.2],[52.5,3.0],[54.3,2.9],[56,3.0],[58,3.56],[59.9,2.8],[61.7,2.7],[63.5,2.6],[65.4,2.7],[67.3,2.8],[69,3.3],[71,2.6],[72.8,2.6],[74.6,2.5],[76.5,2.5],[78.4,2.4],[80.3,2.5],[82,2.5],[84.8,3.4],[86.6,2.5],[88,2.4],[89.5,2.3],[91.3,2.4],[93,2.3],[95,2.3],[96.9,2.4],[98.8,2.5],[100.6,2.6],[102.5,2.3],[104.3,2.2],[106.2,2.3],[108,2.3],[110,2.2],[111.6,2.1],[113.5,2.2],[115.4,2.2],[117.2,2.1],[119,2.1],[121,2.0],[122.7,2.0],[124.6,2.1],[126.4,2.0],[128.2,1.95],[130,1.9],[132,2.0],[133.8,2.1],[135.6,1.9],[137.5,1.8],[139.4,1.9],[141.2,2.0],[142.1,2.5],[143.9,1.8],[145.2,1.6],[146.7,1.5],[148.6,1.55],[150.4,1.6],[152.3,1.65],[154,1.7],[156,1.8],[157,2.5],[158,1.7],[159.7,1.65],[161.5,1.7],[163,1.55],[165,1.7],[166.2,4.0],[167,3.5],[169,4.3],[170.8,4.5],[172.6,4.0],[174.5,4.4],[176,5.3],[177.5,4.8],[178.2,4.5],[180,4.2],[182,3.9],[183.8,3.6],[185.6,3.5],[187.5,3.6],[189.3,3.4],[191,3.3],[193,3.2],[194.8,3.3],[196.7,3.7],[198.5,3.0],[200.4,2.7],[202.2,2.8],[204,2.7],[206,2.8],[207.8,3.0],[209.6,2.6],[211.5,2.5],[213.3,2.6],[215.2,2.6],[217,2.5],[219,2.5],[220.8,2.6],[222.6,2.7],[224,2.8],[225.6,3.15],[227.5,2.9],[228.8,2.6],[230,2.4],[232,2.4],[233.7,2.3],[235.5,2.3],[237.4,2.2],[239.2,2.3],[241,2.3],[243,2.2],[244.8,2.2],[246.7,2.1],[248.5,2.1],[250.4,2.2],[252.2,2.7],[254,2.1],[256,2.0],[257.8,2.0],[259.5,2.05],[261.4,2.0],[263.2,2.0],[265,1.95],[267,1.9],[268.8,1.85],[270.6,1.8],[272.5,1.85],[274.3,1.9],[276.2,1.85],[278,1.8],[280,1.9],[281.7,2.0],[283.6,1.8],[285.4,1.7],[287.2,1.65],[289,1.6],[291,1.65],[292.8,1.7],[294.6,1.65],[296.5,1.6],[298.3,1.65],[300.2,1.7],[302,1.65],[304,1.65],[306,1.6],[306.6,4.2],[308.5,4.0],[310.4,4.4],[312.3,4.0],[314,4.5],[316,3.8],[318.6,5.1],[319.6,4.0],[321.4,4.2],[323.3,3.8],[325,3.6],[327,3.8],[329,3.4],[330.8,3.5],[332.5,3.5],[334.3,3.4],[336,3.3],[338,3.2],[340,3.0],[342,3.1],[344,2.9],[346,2.8],[348,2.7],[350,2.6],[352,2.8],[353.5,2.7],[355,2.6],[357,2.5],[359,2.5],[361,2.6],[363,2.6],[365,2.5],[366.8,2.5],[368.6,2.45],[370.5,2.4],[372.3,2.5],[374,2.5],[376,2.4],[378,2.4],[380,2.35],[381.6,2.3],[383.5,2.35],[385.3,2.3],[387.2,2.35],[389,2.4],[391,2.5],[392.7,2.8],[394.5,2.5],[396.4,2.2],[398.2,2.15],[400,2.1],[402,2.1],[403.8,2.1],[405.6,2.05],[407.5,2.0],[409.4,1.95],[411.2,1.9],[413,1.85],[415,1.8],[416.7,1.9],[418.5,2.35],[420.4,1.9],[422.2,2.0],[424,1.95],[426,1.9],[427.8,1.8],[429.6,1.7],[431.5,1.65],[433.3,1.6],[435.2,1.65],[437,1.7],[438.9,1.7],[440.7,1.7],[442.6,1.65],[444.4,1.7],[446,1.65],[447.3,1.6],[448.2,4.0],[449,3.8],[450,4.2],[451.8,3.8],[453.6,4.5],[454.7,5.4],[455.5,4.2],[457.3,4.5],[459.2,4.0],[461,4.2],[463,4.4],[465,3.8],[466.6,3.5],[468.5,3.8],[470.4,3.3],[472.2,3.3],[474,3.2],[476,3.1],[477.7,3.0],[479.5,3.0],[481.4,2.9],[483.3,2.8],[485.2,2.7],[487,2.75],[488.9,2.7],[490.7,2.65],[492.6,2.6],[494.4,2.7],[496.3,2.8],[498.2,2.6],[500,2.5],[502,2.55],[503.7,2.6],[505.5,2.7],[507.6,3.0],[509.5,2.5],[511,2.4],[513,2.45],[514.7,2.4],[516.6,2.35],[518.5,2.3],[520.3,2.25],[522,2.2],[524,2.15],[526,2.1],[527.8,2.15],[529.6,2.2],[531.5,2.1],[533.3,2.2],[535.5,2.6],[537,2.0],[539,2.0],[540.7,2.0],[542.5,1.95],[544.4,1.9],[546,1.9]];

// annotations (data coordinates of the upper panel)
const labelTexts = ["reflected shock", "first peak", "reflected shock", "second peak", "reflected shock", "third peak"];
const labelT = [12.2, 112.6, 183.8, 245.1, 318.4, 395.5];
const labelP = [20.26, 14.41, 10.18, 20.38, 12.05, 20.45];
const arrowFromT = [43.3, 183.8, 327.1, 388.6];
const arrowFromP = [19.89, 10.0, 11.69, 11.69];
const arrowToT = [19.25, 159.7, 303.5, 437.0];
const arrowToP = [7.58, 7.21, 8.70, 9.45];

// ---------- styles ----------
const W = 1037, H = 513;
const X_MAX = 546;
const topDomain = [0.3, 25.74];
const botDomain = [1.07, 8.35];
const topStyles = [
  {color: "#ff0000", dash: null},
  {color: "#0000ff", dash: "9.6,2.4,1.5,2.4"},
  {color: "#00bfbf", dash: "5.55,2.4"},
  {color: "#bf00bf", dash: "1.5,2.475"}
];
const botStyles = [
  {color: "#ffa500", dash: null},
  {color: "#008000", dash: "9.6,2.4,1.5,2.4"},
  {color: "#8a2be2", dash: "5.55,2.4"},
  {color: "#000000", dash: "1.5,2.475"}
];
const gridStyle = {stroke: "#b0b0b0", strokeOpacity: 1, strokeWidth: 1};
const spine = {stroke: "#000", strokeWidth: 1.1};

function rows(arr) { return arr.map(([t, p]) => ({t, p})); }
function lineMarks(series, styles) {
  return series.map((s, i) => Plot.line(rows(s), {
    x: "t", y: "p", stroke: styles[i].color, strokeWidth: 1.5,
    strokeDasharray: styles[i].dash || undefined,
    strokeLinecap: "butt", strokeLinejoin: "round"
  }));
}

const fig = document.getElementById("fig");
const baseStyle = {background: "transparent", fontFamily: "DejaVu Sans", fontSize: "14px", color: "#000", overflow: "visible"};

// upper panel
const labels = labelTexts.map((s, i) => ({s, t: labelT[i], p: labelP[i]}));
const arrows = arrowFromT.map((t, i) => ({t1: t, p1: arrowFromP[i], t2: arrowToT[i], p2: arrowToP[i]}));
const topPlot = Plot.plot({
  width: W, height: H,
  marginLeft: 52, marginRight: 0, marginTop: 2.7, marginBottom: H - 230,
  x: {domain: [0, X_MAX]}, y: {domain: topDomain},
  style: baseStyle,
  marks: [
    Plot.gridX(xTicks, gridStyle),
    Plot.gridY(topYTicks, gridStyle),
    ...lineMarks([k1, k2, k3, k4], topStyles),
    Plot.ruleX([0], spine),
    Plot.ruleY(topDomain, spine),
    Plot.axisX(xTicks, {tickSize: 3.5, tickFormat: () => "", label: null, strokeWidth: 1}),
    Plot.axisY(topYTicks, {tickSize: 3.5, tickPadding: 3.5, label: null, fontSize: 14}),
    Plot.arrow(arrows, {x1: "t1", y1: "p1", x2: "t2", y2: "p2", stroke: "#000", strokeWidth: 2, headLength: 13, headAngle: 38}),
    Plot.text(labels, {x: "t", y: "p", text: "s", textAnchor: "start", lineAnchor: "bottom", fontFamily: "Liberation Serif", fontSize: 29, fill: "#000"})
  ]
});
fig.appendChild(topPlot);

// lower panel
const botPlot = Plot.plot({
  width: W, height: H,
  marginLeft: 52, marginRight: 0, marginTop: 241, marginBottom: H - 468.3,
  x: {domain: [0, X_MAX]}, y: {domain: botDomain},
  style: baseStyle,
  marks: [
    Plot.gridX(xTicks, gridStyle),
    Plot.gridY(botYTicks, gridStyle),
    ...lineMarks([k5, k6, k7, k8], botStyles),
    Plot.ruleX([0], spine),
    Plot.ruleY(botDomain, spine),
    Plot.axisX(xTicks, {tickSize: 3.5, tickPadding: 3.5, label: null, fontSize: 14.5}),
    Plot.axisY(botYTicks, {tickSize: 3.5, tickPadding: 3.5, label: null, fontSize: 14})
  ]
});
fig.appendChild(botPlot);

// vertical shock markers spanning both panels (drawn in the lower panel's scales)
{
  const y = botPlot.scale("y");
  const hi = y.invert ? y.invert(218) : 9.09;
  const lo = y.invert ? y.invert(460) : 1.34;
  const shockRows = shockTimes.map(t => ({t, lo, hi}));
  const overlay = Plot.plot({
    width: W, height: H,
    marginLeft: 52, marginRight: 0, marginTop: 241, marginBottom: H - 468.3,
    x: {domain: [0, X_MAX], axis: null}, y: {domain: botDomain, axis: null},
    style: baseStyle,
    marks: [Plot.ruleX(shockRows, {x: "t", y1: "lo", y2: "hi", stroke: "#000", strokeWidth: 1.6, strokeDasharray: "10,2.5,1.5,2.5"})]
  });
  fig.appendChild(overlay);
}

// axis titles
function addLabel(html, x, y, cls) {
  const d = document.createElement("div");
  d.className = "lab " + (cls || "");
  d.style.left = x + "px"; d.style.top = y + "px";
  d.innerHTML = html;
  fig.appendChild(d);
}
addLabel("Static pressure in [bar]", 16, 117, "ylab");
addLabel("Static pressure in [bar]", 16, 355, "ylab");
addLabel("Time in [<i>μs</i>]", 546, 499);

// legends
function addLegend(names, styles, top) {
  const box = document.createElement("div");
  box.className = "legend";
  box.style.top = top + "px";
  const rowY = [11.7, 33.2, 54.6, 76.2];
  names.forEach((n, i) => {
    const r = document.createElement("div");
    r.className = "row";
    r.style.top = rowY[i] + "px";
    const dash = styles[i].dash ? ` stroke-dasharray="${styles[i].dash}"` : "";
    r.innerHTML = `<svg width="31" height="4" style="overflow:visible"><line x1="0" x2="30" y1="2" y2="2" stroke="${styles[i].color}" stroke-width="1.5"${dash}/></svg><span>${n}</span>`;
    box.appendChild(r);
  });
  fig.appendChild(box);
}
addLegend(topNames, topStyles, 10);
addLegend(botNames, botStyles, 248);
</script>
</body></html>
